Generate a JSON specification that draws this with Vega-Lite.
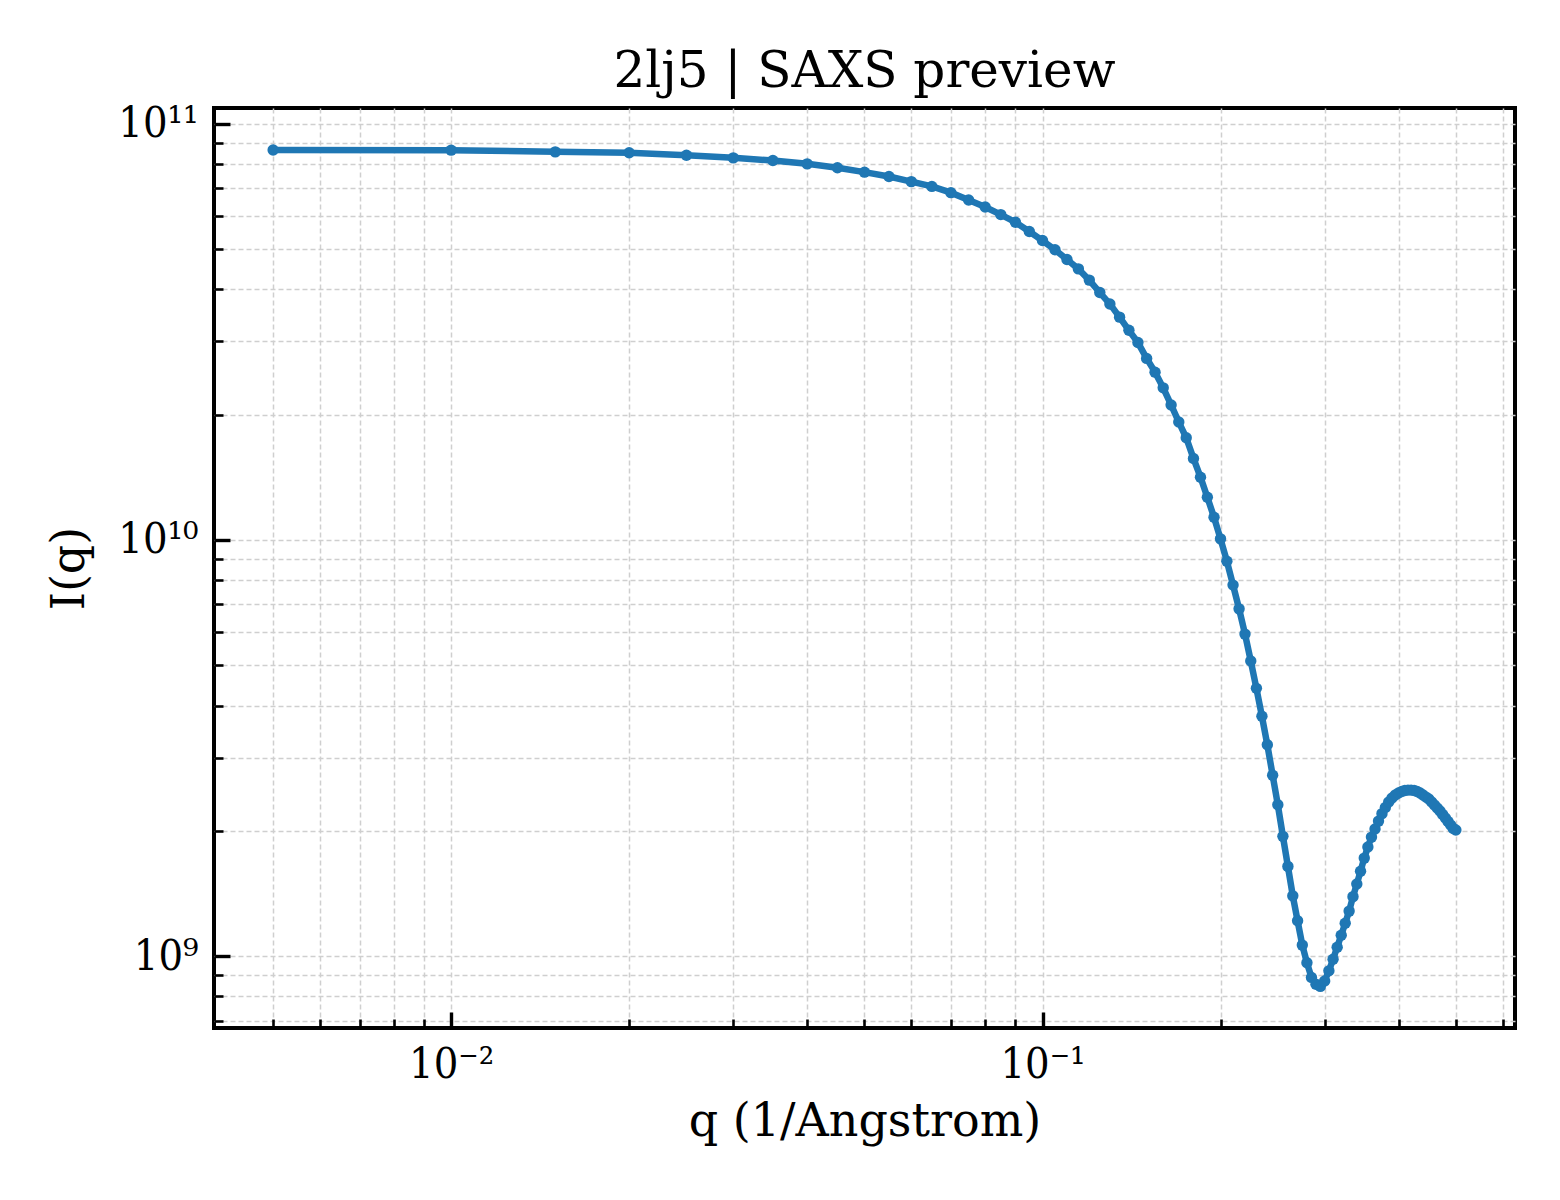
{
  "$schema": "https://vega.github.io/schema/vega-lite/v6.json",
  "autosize": {"type": "none"},
  "padding": {"left": 214, "top": 108, "right": 45, "bottom": 172},
  "width": 1301,
  "height": 920,
  "background": "white",
  "title": {
    "text": "2lj5 | SAXS preview",
    "font": "DejaVu Serif",
    "fontSize": 50,
    "fontWeight": "normal",
    "color": "black",
    "anchor": "middle",
    "frame": "group",
    "baseline": "alphabetic",
    "offset": 22,
    "dy": 56
  },
  "config": {
    "view": {"stroke": "black", "strokeWidth": 4},
    "axis": {
      "domain": false,
      "grid": true,
      "gridColor": "#cfcfcf",
      "gridDash": [5, 3],
      "gridWidth": 1.5,
      "tickColor": "black",
      "labelFont": "DejaVu Serif Condensed, DejaVu Serif",
      "labelFontSize": 43,
      "labelColor": "black",
      "titleFont": "DejaVu Serif",
      "titleFontSize": 46,
      "titleFontWeight": "normal",
      "titleColor": "black"
    }
  },
  "data": {
    "values": [
      {"q": 0.005, "I": 8.65e10}, {"q": 0.01, "I": 8.64e10}, {"q": 0.015, "I": 8.56e10}, {"q": 0.02, "I": 8.52e10},
      {"q": 0.025, "I": 8.40e10}, {"q": 0.03, "I": 8.28e10}, {"q": 0.035, "I": 8.16e10}, {"q": 0.04, "I": 8.01e10},
      {"q": 0.045, "I": 7.84e10}, {"q": 0.05, "I": 7.65e10}, {"q": 0.055, "I": 7.47e10}, {"q": 0.06, "I": 7.26e10},
      {"q": 0.065, "I": 7.07e10}, {"q": 0.07, "I": 6.83e10}, {"q": 0.075, "I": 6.56e10}, {"q": 0.08, "I": 6.31e10},
      {"q": 0.085, "I": 6.05e10}, {"q": 0.09, "I": 5.80e10}, {"q": 0.095, "I": 5.51e10}, {"q": 0.1, "I": 5.24e10},
      {"q": 0.105, "I": 4.98e10}, {"q": 0.11, "I": 4.72e10}, {"q": 0.115, "I": 4.48e10}, {"q": 0.12, "I": 4.21e10},
      {"q": 0.125, "I": 3.93e10}, {"q": 0.13, "I": 3.69e10}, {"q": 0.135, "I": 3.43e10}, {"q": 0.14, "I": 3.19e10},
      {"q": 0.145, "I": 2.98e10}, {"q": 0.15, "I": 2.73e10}, {"q": 0.155, "I": 2.53e10}, {"q": 0.16, "I": 2.32e10},
      {"q": 0.165, "I": 2.11e10}, {"q": 0.17, "I": 1.92e10}, {"q": 0.175, "I": 1.76e10}, {"q": 0.18, "I": 1.57e10},
      {"q": 0.185, "I": 1.415e10}, {"q": 0.19, "I": 1.266e10}, {"q": 0.195, "I": 1.134e10}, {"q": 0.2, "I": 1.006e10},
      {"q": 0.205, "I": 8.89e9}, {"q": 0.21, "I": 7.79e9}, {"q": 0.215, "I": 6.83e9}, {"q": 0.22, "I": 5.94e9},
      {"q": 0.225, "I": 5.12e9}, {"q": 0.23, "I": 4.40e9}, {"q": 0.235, "I": 3.77e9}, {"q": 0.24, "I": 3.22e9},
      {"q": 0.245, "I": 2.72e9}, {"q": 0.25, "I": 2.31e9}, {"q": 0.255, "I": 1.94e9}, {"q": 0.26, "I": 1.643e9},
      {"q": 0.265, "I": 1.396e9}, {"q": 0.27, "I": 1.216e9}, {"q": 0.275, "I": 1.063e9}, {"q": 0.28, "I": 9.64e8},
      {"q": 0.285, "I": 8.89e8}, {"q": 0.29, "I": 8.56e8}, {"q": 0.295, "I": 8.46e8}, {"q": 0.3, "I": 8.72e8},
      {"q": 0.305, "I": 9.22e8}, {"q": 0.31, "I": 9.83e8}, {"q": 0.315, "I": 1.051e9}, {"q": 0.32, "I": 1.123e9},
      {"q": 0.325, "I": 1.2e9}, {"q": 0.33, "I": 1.283e9}, {"q": 0.335, "I": 1.39e9}, {"q": 0.34, "I": 1.49e9},
      {"q": 0.345, "I": 1.6e9}, {"q": 0.35, "I": 1.72e9}, {"q": 0.355, "I": 1.83e9}, {"q": 0.36, "I": 1.932e9},
      {"q": 0.365, "I": 2.02e9}, {"q": 0.37, "I": 2.111e9}, {"q": 0.375, "I": 2.2e9}, {"q": 0.38, "I": 2.275e9},
      {"q": 0.385, "I": 2.346e9}, {"q": 0.39, "I": 2.398e9}, {"q": 0.395, "I": 2.438e9}, {"q": 0.4, "I": 2.465e9},
      {"q": 0.405, "I": 2.486e9}, {"q": 0.41, "I": 2.5e9}, {"q": 0.415, "I": 2.506e9}, {"q": 0.42, "I": 2.506e9},
      {"q": 0.425, "I": 2.5e9}, {"q": 0.43, "I": 2.486e9}, {"q": 0.435, "I": 2.465e9}, {"q": 0.44, "I": 2.438e9},
      {"q": 0.445, "I": 2.411e9}, {"q": 0.45, "I": 2.385e9}, {"q": 0.455, "I": 2.346e9}, {"q": 0.46, "I": 2.307e9},
      {"q": 0.465, "I": 2.269e9}, {"q": 0.47, "I": 2.232e9}, {"q": 0.475, "I": 2.189e9}, {"q": 0.48, "I": 2.147e9},
      {"q": 0.485, "I": 2.106e9}, {"q": 0.49, "I": 2.065e9}, {"q": 0.495, "I": 2.026e9}, {"q": 0.5, "I": 2.009e9}
    ]
  },
  "encoding": {
    "x": {
      "field": "q",
      "type": "quantitative",
      "scale": {"type": "log", "domain": [0.003972, 0.6295], "nice": false},
      "axis": {
        "title": "q (1/Angstrom)",
        "titleY": 107,
        "titleBaseline": "alphabetic",
        "values": [0.005, 0.006, 0.007, 0.008, 0.009, 0.01, 0.02, 0.03, 0.04, 0.05, 0.06, 0.07, 0.08, 0.09, 0.1, 0.2, 0.3, 0.4, 0.5, 0.6],
        "labelExpr": "datum.value == 0.01 ? '10⁻²' : datum.value == 0.1 ? '10⁻¹' : ''",
        "labelBaseline": "alphabetic",
        "labelPadding": 65,
        "labelFlush": false,
        "labelOverlap": false,
        "tickSize": {"condition": {"test": "datum.value == 0.01 || datum.value == 0.1", "value": -16}, "value": -9},
        "tickWidth": {"condition": {"test": "datum.value == 0.01 || datum.value == 0.1", "value": 3.4}, "value": 2.6}
      }
    },
    "y": {
      "field": "I",
      "type": "quantitative",
      "scale": {"type": "log", "domain": [6.72e8, 1.091e11], "nice": false},
      "axis": {
        "title": "I(q)",
        "titleX": -131,
        "titleBaseline": "alphabetic",
        "values": [7e8, 8e8, 9e8, 1e9, 2e9, 3e9, 4e9, 5e9, 6e9, 7e9, 8e9, 9e9, 1e10, 2e10, 3e10, 4e10, 5e10, 6e10, 7e10, 8e10, 9e10, 1e11],
        "labelExpr": "datum.value == 1e9 ? '10⁹' : datum.value == 1e10 ? '10¹⁰' : datum.value == 1e11 ? '10¹¹' : ''",
        "labelBaseline": "middle",
        "labelPadding": 32,
        "labelFlush": false,
        "labelOverlap": false,
        "tickSize": {"condition": {"test": "datum.value == 1e9 || datum.value == 1e10 || datum.value == 1e11", "value": -16}, "value": -9},
        "tickWidth": {"condition": {"test": "datum.value == 1e9 || datum.value == 1e10 || datum.value == 1e11", "value": 3.4}, "value": 2.6}
      }
    }
  },
  "layer": [
    {"mark": {"type": "line", "color": "#1f77b4", "strokeWidth": 6.5}},
    {"mark": {"type": "point", "filled": true, "color": "#1f77b4", "size": 130, "opacity": 1}}
  ]
}
